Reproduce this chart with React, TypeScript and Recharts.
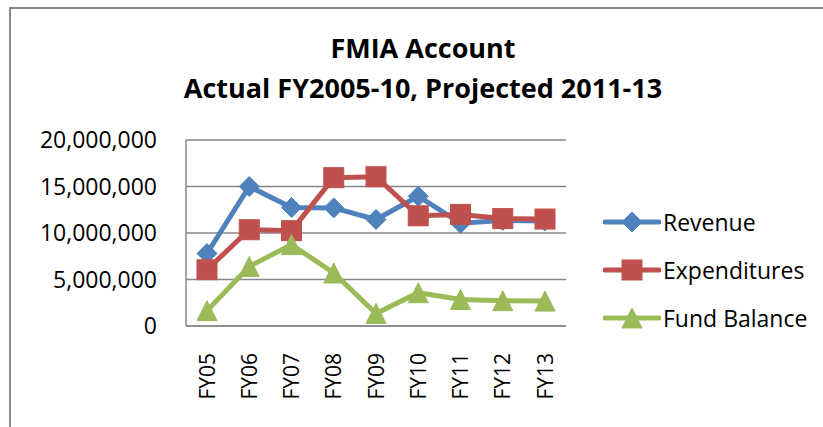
import React from 'react';
import { LineChart, Line, XAxis, YAxis, CartesianGrid } from 'recharts';

const categories = ['FY05', 'FY06', 'FY07', 'FY08', 'FY09', 'FY10', 'FY11', 'FY12', 'FY13'];
const revenue = [7800000, 15000000, 12750000, 12700000, 11450000, 13950000, 11050000, 11350000, 11300000];
const expenditures = [6050000, 10350000, 10250000, 15950000, 16050000, 11850000, 12000000, 11550000, 11500000];
const fundBalance = [1650000, 6400000, 8750000, 5700000, 1350000, 3580000, 2850000, 2720000, 2680000];
const yTicks = [0, 5000000, 10000000, 15000000, 20000000];

const seriesNames = ['Revenue', 'Expenditures', 'Fund Balance'];
const colors = ['#4F81BD', '#C0504D', '#9BBB59'];

const data = categories.map((c, i) => ({
  name: c,
  Revenue: revenue[i],
  Expenditures: expenditures[i],
  'Fund Balance': fundBalance[i],
}));

const FONT = '"Open Sans", sans-serif';

function Marker({ kind, cx, cy, color }: { kind: string; cx: number; cy: number; color: string }) {
  if (kind === 'diamond') {
    const r = 10;
    return <path d={`M${cx},${cy - r}L${cx + r},${cy}L${cx},${cy + r}L${cx - r},${cy}Z`} fill={color} stroke={color} strokeWidth={1} />;
  }
  if (kind === 'square') {
    const r = 10;
    return <rect x={cx - r} y={cy - r} width={2 * r} height={2 * r} fill={color} stroke={color} strokeWidth={1} />;
  }
  const r = 10;
  return <path d={`M${cx},${cy - r}L${cx + r},${cy + r}L${cx - r},${cy + r}Z`} fill={color} stroke={color} strokeWidth={1} />;
}

const kinds = ['diamond', 'square', 'triangle'];

const makeDot = (idx: number) => (props: any) => {
  const { cx, cy, index } = props;
  if (cx == null || cy == null) return <g key={`d-${idx}-${index}`} />;
  return (
    <g key={`d-${idx}-${index}`}>
      <Marker kind={kinds[idx]} cx={cx} cy={cy} color={colors[idx]} />
    </g>
  );
};

const XTick = (props: any) => {
  const { x, y, payload } = props;
  return (
    <text
      x={x}
      y={y}
      transform={`rotate(-90, ${x}, ${y})`}
      textAnchor="end"
      dy="0.36em"
      fill="#000"
      fontSize={21}
      fontFamily={FONT}
    >
      {payload.value}
    </text>
  );
};

const LegendBox = () => (
  <div style={{ position: 'absolute', left: 603, top: 198, width: 220, fontFamily: FONT, fontSize: 23, color: '#000' }}>
    {seriesNames.map((n, i) => (
      <div key={n} style={{ display: 'flex', alignItems: 'center', height: 48 }}>
        <svg width={58} height={24} style={{ display: 'block' }}>
          <line x1={2} y1={12} x2={56} y2={12} stroke={colors[i]} strokeWidth={5} strokeLinecap="round" />
          <Marker kind={kinds[i]} cx={29} cy={12} color={colors[i]} />
        </svg>
        <span style={{ marginLeft: 2, lineHeight: '24px', whiteSpace: 'nowrap' }}>{n}</span>
      </div>
    ))}
  </div>
);

export default function App() {
  return (
    <div style={{ position: 'absolute', left: 0, top: 0, width: 823, height: 427, overflow: 'hidden', background: '#fff' }}>
      <div
        style={{
          position: 'absolute',
          left: 9,
          top: 7,
          width: 900,
          height: 500,
          border: '2px solid #878787',
          boxSizing: 'border-box',
        }}
      />
      <div
        style={{
          position: 'absolute',
          left: 0,
          width: 846,
          top: 28,
          textAlign: 'center',
          fontFamily: FONT,
          fontWeight: 700,
          fontSize: 27,
          lineHeight: '40px',
          color: '#000',
          whiteSpace: 'nowrap',
        }}
      >
        <div>FMIA Account</div>
        <div>Actual FY2005-10, Projected 2011-13</div>
      </div>
      <div style={{ position: 'absolute', left: 0, top: 0 }}>
        <LineChart width={823} height={427} data={data} margin={{ top: 140, right: 257, bottom: 0, left: 10 }}>
          <CartesianGrid vertical={false} stroke="#878787" strokeWidth={1.5} />
          <XAxis
            dataKey="name"
            padding={{ left: 21, right: 21 }}
            axisLine={{ stroke: '#878787', strokeWidth: 1.5 }}
            tickLine={false}
            tick={<XTick />}
            tickSize={0}
            tickMargin={27}
            height={101}
            interval={0}
          />
          <YAxis
            domain={[0, 20000000]}
            ticks={yTicks}
            width={176}
            axisLine={{ stroke: '#878787', strokeWidth: 1.5 }}
            tickLine={false}
            tickSize={0}
            tickMargin={29}
            tick={{ fill: '#000', fontSize: 23, fontFamily: FONT }}
            tickFormatter={(v: number) => v.toLocaleString('en-US')}
            interval={0}
          />
          {seriesNames.map((n, i) => (
            <Line
              key={n}
              type="linear"
              dataKey={n}
              stroke={colors[i]}
              strokeWidth={5}
              dot={makeDot(i)}
              activeDot={false}
              isAnimationActive={false}
            />
          ))}
        </LineChart>
      </div>
      <LegendBox />
    </div>
  );
}
